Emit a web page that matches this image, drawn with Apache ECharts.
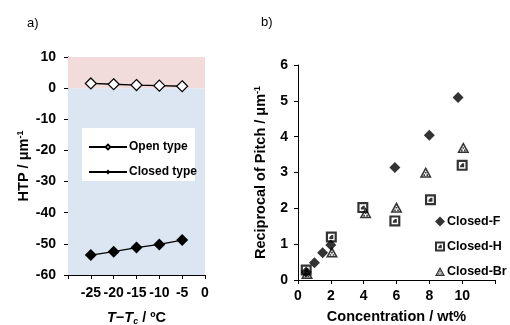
<!DOCTYPE html>
<html><head><meta charset="utf-8">
<script src="https://cdn.jsdelivr.net/npm/echarts@6/dist/echarts.min.js"></script>
<style>html,body{margin:0;padding:0;background:#fff}#c{width:510px;height:325px}</style>
</head><body><div id="c"></div>
<script>
// Panel a
const tempX = [-25, -20, -15, -10, -5];
const openHTP = [1.5, 1.25, 1.0, 0.8, 0.6];
const closedHTP = [-53.6, -52.5, -51.2, -50.2, -48.8];
// Panel b
const fConc = [0.5, 1.0, 1.5, 2.0, 5.9, 8.0, 9.75];
const fVal  = [0.22, 0.48, 0.76, 0.98, 3.14, 4.04, 5.09];
const hConc = [0.5, 2.03, 3.95, 5.9, 8.07, 10.0];
const hVal  = [0.28, 1.2, 2.02, 1.65, 2.24, 3.2];
const brConc = [0.55, 2.07, 4.12, 6.0, 7.78, 10.07];
const brVal  = [0.18, 0.78, 1.88, 2.03, 3.01, 3.7];

const zip = (a, b) => a.map((v, i) => [v, b[i]]);
const FONT = 'Liberation Sans, Arial, sans-serif';
const lbl = {fontFamily: FONT, fontWeight: 'bold', fontSize: 14, color: '#000'};
const axisLine = {show: true, onZero: false, lineStyle: {color: '#000', width: 1}};
const axisTick = {show: true, inside: false, length: 4, lineStyle: {color: '#000'}};

const squarePath = 'path://M0 0H10V10H0Z M2 2V8H8V2Z M3.2 3.2H6.8V6.8H3.2Z M3.2 3.2L3.2 5.2L5.2 3.2Z';
const triPath = 'path://M5 0L10 9L0 9Z M5 2.8L2.1 7.8L7.9 7.8Z M4.3 4.3h1.4v1.3h-1.4Z M3.1 6.3h1.3v1.3h-1.3Z M5.6 6.3h1.3v1.3h-1.3Z';

const nameRich = {
  n: {fontFamily: FONT, fontWeight: 'bold', fontSize: 14.5, color: '#000'},
  s: {fontFamily: FONT, fontWeight: 'bold', fontSize: 9, color: '#000', verticalAlign: 'top', padding: [0, 0, 7, 0]}
};

const chart = echarts.init(document.getElementById('c'), null, {renderer: 'canvas'});
chart.setOption({
  animation: false,
  textStyle: {fontFamily: FONT},
  grid: [
    {left: 68, top: 57, width: 137, height: 218, outerBoundsMode: 'none', containLabel: false},
    {left: 298, top: 65, width: 197, height: 215, outerBoundsMode: 'none', containLabel: false}
  ],
  xAxis: [
    {gridIndex: 0, type: 'value', min: -30, max: 0, interval: 5,
     axisLine, axisTick, splitLine: {show: false},
     axisLabel: Object.assign({}, lbl, {margin: 11, formatter: v => v === -30 ? '' : String(v)}),
     name: '{i|T}{n|−}{i|T}{s|c}{n| / ºC}', nameLocation: 'middle', nameGap: 35,
     nameTextStyle: {rich: {
       i: {fontFamily: FONT, fontWeight: 'bold', fontStyle: 'italic', fontSize: 14.5, color: '#000'},
       n: {fontFamily: FONT, fontWeight: 'bold', fontSize: 14.5, color: '#000'},
       s: {fontFamily: FONT, fontWeight: 'bold', fontStyle: 'italic', fontSize: 9, color: '#000', verticalAlign: 'bottom', padding: [7, 0, 0, 0]}
     }}},
    {gridIndex: 1, type: 'value', min: 0, max: 12, interval: 2,
     axisLine, axisTick, splitLine: {show: false},
     axisLabel: Object.assign({}, lbl, {margin: 9, formatter: v => v === 12 ? '' : String(v)}),
     name: 'Concentration / wt%', nameLocation: 'middle', nameGap: 29,
     nameTextStyle: {fontFamily: FONT, fontWeight: 'bold', fontSize: 14.5, color: '#000'}}
  ],
  yAxis: [
    {gridIndex: 0, type: 'value', min: -60, max: 10, interval: 10,
     axisLine, axisTick, splitLine: {show: false},
     axisLabel: Object.assign({}, lbl, {margin: 12}),
     name: '{n|HTP / μm}{s|-1}', nameLocation: 'middle', nameGap: 29, nameRotate: 90,
     nameTextStyle: {rich: nameRich}},
    {gridIndex: 1, type: 'value', min: 0, max: 6, interval: 1,
     axisLine, axisTick, splitLine: {show: false},
     axisLabel: Object.assign({}, lbl, {margin: 10}),
     name: '{n|Reciprocal of Pitch / μm}{s|-1}', nameLocation: 'middle', nameGap: 29, nameRotate: 90,
     nameTextStyle: {rich: nameRich}}
  ],
  graphic: [
    {type: 'text', left: 27, top: 17, style: {text: 'a)', font: '13px ' + FONT, fill: '#000'}},
    {type: 'text', left: 261, top: 16, style: {text: 'b)', font: '13px ' + FONT, fill: '#000'}},
    {type: 'rect', left: 82, top: 128, shape: {width: 113, height: 53}, style: {fill: '#fff'}, z: 5}
  ],
  legend: [
    {left: 88, top: 141, padding: 0, orient: 'vertical', itemWidth: 38, itemHeight: 6, itemGap: 13, z: 10,
     data: ['Open type', 'Closed type'],
     textStyle: {fontFamily: FONT, fontWeight: 'bold', fontSize: 12, color: '#000', padding: [0, 0, 0, -3]}},
    {left: 435, top: 215, padding: 0, orient: 'vertical', itemWidth: 10, itemHeight: 10, itemGap: 12,
     data: ['Closed-F', 'Closed-H', 'Closed-Br'],
     textStyle: {fontFamily: FONT, fontWeight: 'bold', fontSize: 12.5, color: '#000', padding: [0, 0, 0, -3]}}
  ],
  series: [
    {name: 'bg', type: 'line', xAxisIndex: 0, yAxisIndex: 0, data: [], silent: true,
     markArea: {silent: true, data: [
       [{yAxis: 0, itemStyle: {color: '#F2DCDB'}}, {yAxis: 10}],
       [{yAxis: -60, itemStyle: {color: '#DCE6F2'}}, {yAxis: 0}]
     ]}},
    {name: 'Open type', type: 'line', xAxisIndex: 0, yAxisIndex: 0, data: zip(tempX, openHTP),
     symbol: 'diamond', symbolSize: 11,
     lineStyle: {color: '#000', width: 1.3},
     itemStyle: {color: '#fff', borderColor: '#000', borderWidth: 1.2}},
    {name: 'Closed type', type: 'line', xAxisIndex: 0, yAxisIndex: 0, data: zip(tempX, closedHTP),
     symbol: 'diamond', symbolSize: 12,
     lineStyle: {color: '#000', width: 1.3},
     itemStyle: {color: '#000', borderColor: '#000', borderWidth: 0}},
    {name: 'Closed-F', type: 'scatter', xAxisIndex: 1, yAxisIndex: 1, data: zip(fConc, fVal),
     symbol: 'diamond', symbolSize: 11, itemStyle: {color: '#000'}},
    {name: 'Closed-H', type: 'scatter', xAxisIndex: 1, yAxisIndex: 1, data: zip(hConc, hVal),
     symbol: squarePath, symbolSize: 11, itemStyle: {color: '#000'}},
    {name: 'Closed-Br', type: 'scatter', xAxisIndex: 1, yAxisIndex: 1, data: zip(brConc, brVal),
     symbol: triPath, symbolSize: [12, 11], itemStyle: {color: '#000'}}
  ]
});
</script></body></html>
